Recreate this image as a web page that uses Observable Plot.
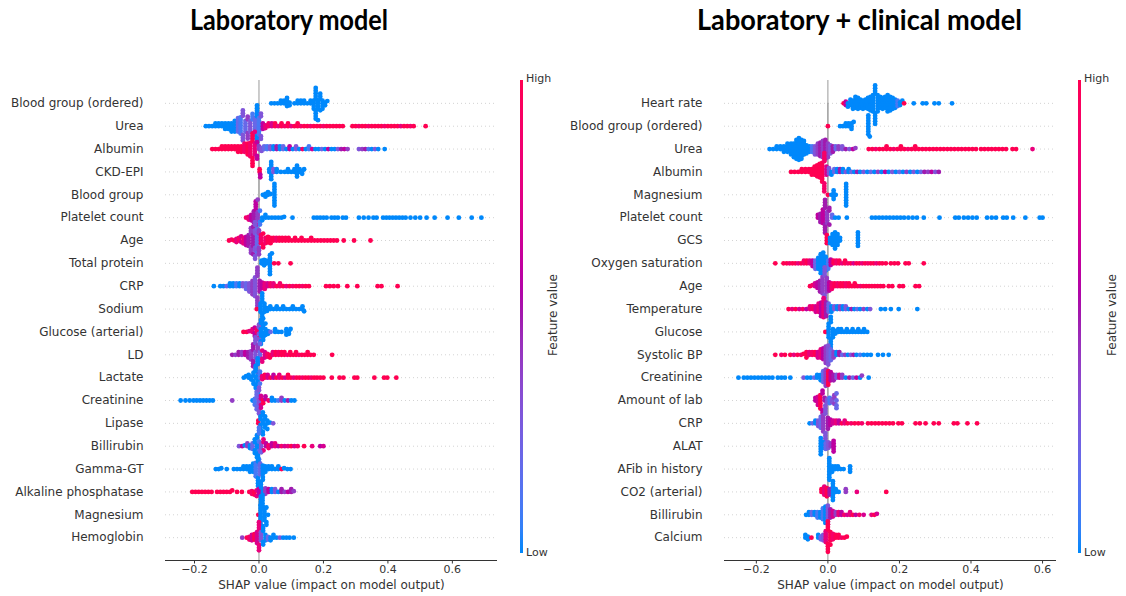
<!DOCTYPE html>
<html><head><meta charset="utf-8">
<script src="https://cdn.jsdelivr.net/npm/d3@7"></script>
<script src="https://cdn.jsdelivr.net/npm/@observablehq/plot@0.6"></script>
<style>
html,body{margin:0;padding:0;background:#fff;}
#root{position:relative;width:1126px;height:596px;overflow:hidden;font-family:"DejaVu Sans",sans-serif;color:#333;}
.title{position:absolute;top:5px;font-family:Lato,"Open Sans",sans-serif;font-weight:700;font-size:28px;line-height:28px;color:#000;white-space:nowrap;transform-origin:0 0;}
.panel{position:absolute;top:0;}
.cbar{position:absolute;width:3px;top:80px;height:473px;}
.cbtext{position:absolute;font-size:11px;line-height:12px;color:#333;}
.fv{position:absolute;width:120px;height:14px;font-size:12px;line-height:14px;text-align:center;transform:rotate(-90deg);color:#333;white-space:nowrap;}
</style></head><body><div id="root"></div><script>
// ---------- text ----------
const titles = ["Laboratory model", "Laboratory + clinical model"];
const xLabel = "SHAP value (impact on model output)";
const xTicks = [-0.2, 0, 0.2, 0.4, 0.6];
const colorbarLabels = ["High", "Low", "Feature value"];

// ---------- left panel: laboratory model ----------
const labFeatures = ["Blood group (ordered)","Urea","Albumin","CKD-EPI","Blood group","Platelet count","Age","Total protein","CRP","Sodium","Glucose (arterial)","LD","Lactate","Creatinine","Lipase","Billirubin","Gamma-GT","Alkaline phosphatase","Magnesium","Hemoglobin"];
// each entry: [SHAP value, feature value (0 low .. 1 high), number of points]
const labBloodGroupOrdered = [[0.038,0,1],[0.048,0,1],[0.058,0,1],[0.068,0,2],[0.078,0,2],[0.087,0,4],[0.095,0,2],[0.11,0,1],[0.12,0,2],[0.13,0,2],[0.14,0,2],[0.15,0,1],[0.16,0,2],[0.17,0,4],[0.176,0,9],[0.183,0,5],[0.19,0,4],[0.197,0,4],[0.205,0,2],[0.212,0,1]];
const labUrea = [[-0.165,0,1],[-0.155,0,1],[-0.145,0,1],[-0.135,0,2],[-0.125,0,2],[-0.115,0,2],[-0.105,0,3],[-0.095,0,3],[-0.085,0,4],[-0.075,0,5],[-0.065,0.2,6],[-0.057,0.1,7],[-0.05,0.3,6],[-0.042,0.2,5],[-0.035,0.4,5],[-0.027,0.3,5],[-0.02,0.1,6],[-0.012,0.2,7],[-0.006,0,9],[0,0.1,7],[0.006,0.3,4],[0.012,0.6,3],[0.02,0.8,2],[0.03,0.9,2],[0.04,0.7,2],[0.05,1,2],[0.06,0.8,1],[0.07,1,2],[0.08,0.9,1],[0.09,1,2],[0.1,0.8,1],[0.11,1,1],[0.12,1,2],[0.13,0.9,1],[0.14,1,1],[0.15,1,1],[0.16,0.9,1],[0.17,1,1],[0.18,1,1],[0.19,1,1],[0.2,0.9,1],[0.21,1,1],[0.22,1,1],[0.23,1,1],[0.24,1,1],[0.25,1,1],[0.26,1,1],[0.29,1,1],[0.3,1,1],[0.31,0.9,1],[0.32,1,1],[0.33,1,1],[0.34,0.9,1],[0.35,1,1],[0.36,1,1],[0.37,1,1],[0.38,1,1],[0.39,0.9,1],[0.4,1,1],[0.41,1,1],[0.42,1,1],[0.43,1,1],[0.44,0.8,1],[0.45,1,1],[0.46,1,1],[0.47,0.9,1],[0.48,1,1],[0.517,1,1]];
const labAlbumin = [[-0.145,1,1],[-0.135,1,1],[-0.125,1,1],[-0.115,1,2],[-0.105,1,2],[-0.095,1,2],[-0.085,1,2],[-0.075,1,2],[-0.065,1,3],[-0.055,1,3],[-0.045,0.9,4],[-0.035,1,5],[-0.027,0.9,6],[-0.02,1,8],[-0.013,0.8,6],[-0.006,0.6,3],[0,0.4,2],[0.008,0.3,2],[0.016,0.2,2],[0.025,0.1,2],[0.035,0.3,2],[0.045,0,2],[0.055,0.5,2],[0.065,0,2],[0.075,0.2,2],[0.085,0,1],[0.095,0.6,2],[0.105,0,1],[0.115,0.3,2],[0.125,0,1],[0.135,0.9,1],[0.145,0,1],[0.155,0.1,2],[0.165,0.7,1],[0.175,0,1],[0.185,0,1],[0.195,0.2,1],[0.205,0,1],[0.215,0.6,1],[0.225,0,1],[0.235,0,1],[0.245,0.3,1],[0.255,0.5,1],[0.265,0.6,1],[0.275,0.4,1],[0.31,0.3,1],[0.32,0.4,1],[0.33,0.5,1],[0.34,0.1,1],[0.35,0,1],[0.36,0.3,1],[0.37,0,1],[0.39,0,1]];
const labCkdEpi = [[0.002,1,2],[0.004,0.6,2],[0.032,0,2],[0.038,0,6],[0.045,0.3,2],[0.055,0,2],[0.068,0,1],[0.08,0,1],[0.09,0,2],[0.1,0,1],[0.11,0,2],[0.118,0,5],[0.126,0,2],[0.134,0,2],[0.14,0,1]];
const labBloodGroup = [[0.012,0,1],[0.02,0,2],[0.028,0,2],[0.036,0,1],[0.048,0,9]];
const labPlateletCount = [[-0.04,0.9,1],[-0.032,0.8,2],[-0.024,0.6,3],[-0.016,0.5,5],[-0.01,0.6,8],[-0.004,0.4,6],[0.003,0.1,3],[0.01,0,2],[0.02,0,2],[0.03,0,1],[0.04,0,1],[0.05,0,1],[0.06,0,1],[0.07,0,1],[0.078,0,1],[0.104,0,1],[0.17,0,1],[0.18,0,1],[0.19,0,1],[0.2,0,1],[0.21,0,1],[0.225,0,1],[0.235,0,1],[0.245,0,1],[0.26,0,1],[0.27,0,1],[0.31,0,1],[0.325,0,1],[0.34,0,1],[0.355,0,1],[0.365,0,1],[0.385,0,1],[0.395,0,1],[0.405,0,1],[0.415,0,1],[0.425,0,1],[0.435,0,1],[0.445,0,1],[0.455,0,1],[0.47,0,1],[0.485,0,1],[0.5,0,1],[0.52,0,1],[0.545,0,1],[0.585,0,1],[0.62,0,1],[0.66,0,1],[0.69,0,1]];
const labAge = [[-0.093,1,1],[-0.085,0.9,1],[-0.077,1,1],[-0.07,0.8,2],[-0.062,0.9,2],[-0.055,0.7,2],[-0.048,0.8,3],[-0.04,0.6,4],[-0.032,0.5,5],[-0.025,0.4,6],[-0.018,0.5,7],[-0.012,0.3,8],[-0.006,0.2,7],[0,0.4,5],[0.006,0.9,4],[0.013,1,3],[0.02,0.9,3],[0.028,1,3],[0.036,1,3],[0.045,1,2],[0.054,0.9,2],[0.063,1,2],[0.072,1,2],[0.082,1,2],[0.092,1,2],[0.102,1,1],[0.112,1,2],[0.122,1,1],[0.132,1,2],[0.142,1,1],[0.152,1,1],[0.162,1,2],[0.172,1,1],[0.182,1,1],[0.192,1,1],[0.202,1,1],[0.212,1,1],[0.222,1,1],[0.232,1,1],[0.242,1,1],[0.263,1,1],[0.295,1,1],[0.346,1,1]];
const labTotalProtein = [[0.008,0,2],[0.016,0,3],[0.024,0,2],[0.034,0,8],[0.04,0,1],[0.047,1,1],[0.06,1,1],[0.098,1,1]];
const labCrp = [[-0.14,0,1],[-0.12,0,1],[-0.11,0,1],[-0.1,0.2,1],[-0.09,0,2],[-0.08,0,2],[-0.07,0.1,2],[-0.06,0,2],[-0.05,0.3,2],[-0.04,0.2,3],[-0.03,0.3,4],[-0.02,0.4,6],[-0.012,0.3,8],[-0.005,0.4,8],[0.002,0.5,5],[0.01,0.6,3],[0.018,0.8,3],[0.027,0.7,2],[0.036,0.9,2],[0.045,0.8,2],[0.055,1,1],[0.065,0.9,2],[0.075,1,1],[0.085,0.8,1],[0.095,1,1],[0.105,0.9,1],[0.115,1,1],[0.125,1,1],[0.135,0.9,1],[0.145,1,1],[0.155,1,1],[0.208,1,1],[0.22,1,1],[0.232,1,1],[0.245,1,1],[0.274,1,1],[0.305,1,1],[0.368,1,1],[0.38,1,1],[0.43,1,1]];
const labSodium = [[-0.007,1,1],[0.005,0,4],[0.01,0,9],[0.017,0,4],[0.025,0,2],[0.035,0,2],[0.045,0,1],[0.055,0,2],[0.065,0,1],[0.075,0,2],[0.085,0,1],[0.095,0,1],[0.105,0,2],[0.115,0,1],[0.125,0,1],[0.135,0,2],[0.14,0,1]];
const labGlucoseArterial = [[-0.048,1,1],[-0.038,1,1],[-0.03,0.8,1],[-0.02,0.8,2],[-0.013,0.6,3],[-0.006,0.9,3],[0,0.3,4],[0.006,0,7],[0.013,0,6],[0.02,0,4],[0.028,0,2],[0.036,0.2,1],[0.05,0,2],[0.06,0,1],[0.07,0,1],[0.085,0,3],[0.093,0,2],[0.098,0,1]];
const labLd = [[-0.083,0.5,1],[-0.073,0.4,1],[-0.063,0.5,2],[-0.053,0.4,2],[-0.043,0.6,2],[-0.033,0.5,3],[-0.025,0.4,4],[-0.018,0.5,6],[-0.011,0.3,8],[-0.004,0.4,7],[0.003,0.2,4],[0.01,0.8,3],[0.018,0.7,3],[0.026,0.9,2],[0.034,1,2],[0.043,0.8,2],[0.052,1,2],[0.061,0.9,2],[0.07,1,2],[0.079,1,2],[0.088,0.9,1],[0.097,1,2],[0.106,1,1],[0.115,1,2],[0.124,0.9,1],[0.133,1,1],[0.142,1,1],[0.151,1,2],[0.16,1,1],[0.17,1,1],[0.227,1,1]];
const labLactate = [[-0.047,0,1],[-0.04,0,1],[-0.032,0,2],[-0.024,0,2],[-0.017,0,4],[-0.01,0,6],[-0.004,0,9],[0.003,0.1,4],[0.01,0.8,2],[0.018,1,2],[0.027,0.7,2],[0.036,1,1],[0.045,0.6,2],[0.054,1,1],[0.063,0.8,2],[0.072,1,1],[0.081,0.7,1],[0.09,1,2],[0.099,1,1],[0.108,0.8,1],[0.117,1,1],[0.126,1,1],[0.135,0.9,1],[0.144,1,1],[0.153,1,1],[0.162,0.9,1],[0.171,1,1],[0.18,1,1],[0.19,1,1],[0.2,1,1],[0.226,1,1],[0.25,1,1],[0.262,1,1],[0.296,1,1],[0.305,1,1],[0.358,1,1],[0.388,1,1],[0.398,1,1],[0.426,1,1]];
const labCreatinine = [[-0.243,0,1],[-0.228,0,1],[-0.215,0,1],[-0.203,0,1],[-0.193,0,1],[-0.183,0,1],[-0.173,0,1],[-0.163,0,1],[-0.153,0,1],[-0.143,0,1],[-0.083,0.4,1],[-0.02,0,1],[-0.013,0.1,3],[-0.007,0.2,5],[0,0.3,6],[0.006,0.7,4],[0.013,1,2],[0.02,0.6,2],[0.03,0.9,1],[0.04,0,2],[0.05,0,1],[0.06,0.1,1],[0.07,0.4,2],[0.08,0,1],[0.09,0.5,1],[0.1,0,1],[0.11,0,1]];
const labLipase = [[-0.002,1,2],[0.005,0,5],[0.012,0,6],[0.019,0,4],[0.026,0,3],[0.034,0,1],[0.044,0.3,1]];
const labBillirubin = [[-0.062,0.3,1],[-0.052,0.6,1],[-0.044,0,1],[-0.036,0.4,2],[-0.028,0,2],[-0.02,0.2,3],[-0.013,0,4],[-0.006,0,7],[0,0.1,8],[0.007,0.3,4],[0.014,0.8,3],[0.022,0.6,2],[0.03,0.9,2],[0.04,0.6,2],[0.05,0.8,2],[0.06,0.6,1],[0.07,0.9,1],[0.08,0.7,1],[0.09,0.8,1],[0.1,1,1],[0.11,0.7,1],[0.12,0.9,1],[0.14,1,1],[0.165,0.8,1],[0.19,0.6,1],[0.2,0.7,1]];
const labGammaGt = [[-0.134,0,1],[-0.125,0,1],[-0.117,0,1],[-0.1,0,1],[-0.078,0,1],[-0.068,0,1],[-0.058,0,1],[-0.048,0,2],[-0.038,0,2],[-0.028,0,3],[-0.018,0,4],[-0.01,0.1,6],[-0.003,0,8],[0.004,0.2,6],[0.012,0,4],[0.02,0,3],[0.03,0,2],[0.04,0,2],[0.05,0,1],[0.06,0,2],[0.07,1,1],[0.078,0,1],[0.088,0,1],[0.098,0,1]];
const labAlkalinePhosphatase = [[-0.207,1,1],[-0.197,1,1],[-0.187,1,1],[-0.177,1,1],[-0.167,1,1],[-0.157,1,1],[-0.147,1,1],[-0.13,1,1],[-0.12,1,1],[-0.11,1,1],[-0.1,1,1],[-0.09,1,1],[-0.083,1,1],[-0.068,1,1],[-0.053,1,1],[-0.03,1,1],[-0.022,0.9,2],[-0.014,1,2],[-0.007,0.8,2],[0,0.6,3],[0.006,0,7],[0.012,0,6],[0.02,0.4,3],[0.03,0.6,2],[0.04,0,2],[0.05,0.3,2],[0.06,0,1],[0.07,0.5,2],[0.08,0.4,1],[0.09,0.6,1],[0.1,0.5,2],[0.108,0.4,1]];
const labMagnesium = [[-0.002,1,1],[0.005,0,8],[0.011,0,7],[0.017,0,5],[0.023,0,3],[0.028,0,1]];
const labHemoglobin = [[-0.052,0.4,1],[-0.038,1,1],[-0.03,0.9,2],[-0.022,0.7,3],[-0.014,1,3],[-0.006,0.7,5],[0,0.8,7],[0.006,0.3,4],[0.013,0,4],[0.02,0,3],[0.028,0.2,2],[0.036,0,2],[0.045,0,2],[0.055,0,1],[0.065,0.3,1],[0.075,0,1],[0.085,0,1],[0.095,0,1],[0.108,0,1]];
const labSeries = [labBloodGroupOrdered,labUrea,labAlbumin,labCkdEpi,labBloodGroup,labPlateletCount,labAge,labTotalProtein,labCrp,labSodium,labGlucoseArterial,labLd,labLactate,labCreatinine,labLipase,labBillirubin,labGammaGt,labAlkalinePhosphatase,labMagnesium,labHemoglobin];

// ---------- right panel: laboratory + clinical model ----------
const clinFeatures = ["Heart rate","Blood group (ordered)","Urea","Albumin","Magnesium","Platelet count","GCS","Oxygen saturation","Age","Temperature","Glucose","Systolic BP","Creatinine","Amount of lab","CRP","ALAT","AFib in history","CO2 (arterial)","Billirubin","Calcium"];
const clinHeartRate = [[0.044,1,1],[0.05,0.6,2],[0.056,0,2],[0.063,0,3],[0.07,0,4],[0.077,0,5],[0.084,0,5],[0.091,0,4],[0.098,0,4],[0.105,0,4],[0.112,0,5],[0.119,0,6],[0.126,0,7],[0.132,0,9],[0.139,0,7],[0.146,0,5],[0.153,0,5],[0.16,0,5],[0.167,0,7],[0.174,0,6],[0.181,0,5],[0.188,0,4],[0.195,0.1,3],[0.202,0,2],[0.208,0,1],[0.213,1,1],[0.24,0,1],[0.265,0,1],[0.275,0,1],[0.298,0,1],[0.31,0,1],[0.347,0,1]];
const clinBloodGroupOrdered = [[0,1,1],[0.034,0,1],[0.042,0,1],[0.05,0,2],[0.058,0,2],[0.066,0,3],[0.072,0,1],[0.113,0,8],[0.117,0,1]];
const clinUrea = [[-0.163,0,1],[-0.153,0,1],[-0.143,0,2],[-0.133,0,2],[-0.123,0,3],[-0.113,0,4],[-0.103,0,5],[-0.095,0,6],[-0.088,0,8],[-0.081,0,9],[-0.074,0,8],[-0.067,0,6],[-0.06,0,4],[-0.052,0,3],[-0.044,0.1,3],[-0.036,0.3,4],[-0.028,0.4,5],[-0.021,0.5,6],[-0.014,0.4,7],[-0.007,0.5,8],[0,0.4,6],[0.007,0.3,4],[0.014,0.5,3],[0.022,0.2,2],[0.03,0.4,2],[0.04,0.3,2],[0.05,0.5,1],[0.06,0.3,1],[0.07,0.6,1],[0.077,0.4,1],[0.114,1,1],[0.124,1,1],[0.134,0.9,1],[0.144,1,1],[0.154,1,1],[0.164,1,2],[0.174,1,1],[0.184,0.9,1],[0.194,1,1],[0.204,1,2],[0.214,1,1],[0.224,0.9,1],[0.234,1,1],[0.244,1,2],[0.254,1,1],[0.264,1,1],[0.274,1,1],[0.284,1,1],[0.294,1,1],[0.304,1,1],[0.314,1,1],[0.324,1,1],[0.334,1,1],[0.344,1,1],[0.354,1,1],[0.364,1,1],[0.374,1,1],[0.384,1,1],[0.394,1,1],[0.404,1,1],[0.414,1,1],[0.428,1,1],[0.438,1,1],[0.448,1,1],[0.458,1,1],[0.468,1,1],[0.478,1,1],[0.488,1,1],[0.498,1,1],[0.516,1,1],[0.526,1,1],[0.572,0.8,1]];
const clinAlbumin = [[-0.103,1,1],[-0.093,1,1],[-0.083,1,1],[-0.073,1,2],[-0.063,1,2],[-0.053,1,2],[-0.045,1,3],[-0.037,1,4],[-0.03,1,5],[-0.023,1,6],[-0.016,1,8],[-0.01,0.9,8],[-0.004,0.7,4],[0.003,0.3,3],[0.01,0,2],[0.018,0.2,2],[0.026,0,2],[0.034,0.5,2],[0.042,0,2],[0.05,0.3,1],[0.058,0,2],[0.066,0.2,1],[0.074,0,1],[0.082,0.5,1],[0.09,0,1],[0.1,0.3,1],[0.11,0,1],[0.12,0.2,1],[0.13,0,1],[0.14,0.4,1],[0.15,0,1],[0.16,0.6,1],[0.17,0,1],[0.18,0.3,1],[0.19,0,1],[0.2,0.2,1],[0.21,0,1],[0.22,0.4,1],[0.23,0,1],[0.24,0.3,1],[0.25,0,1],[0.26,0.2,1],[0.27,0.5,1],[0.28,0.4,1],[0.29,0.6,1],[0.3,0.3,1],[0.31,0.5,1]];
const clinMagnesium = [[0,1,1],[0.01,0,1],[0.016,0,4],[0.022,0,1],[0.051,0,9]];
const clinPlateletCount = [[-0.028,0.6,2],[-0.021,0.5,4],[-0.014,0.6,6],[-0.008,0.5,8],[-0.002,0.4,5],[0.004,0.5,3],[0.012,0.2,2],[0.02,0,1],[0.03,0,1],[0.053,0,1],[0.123,0,1],[0.133,0,1],[0.143,0,1],[0.153,0,1],[0.163,0,1],[0.173,0,1],[0.183,0,1],[0.193,0,1],[0.203,0,1],[0.213,0,1],[0.225,0,1],[0.237,0,1],[0.249,0,1],[0.268,0,1],[0.312,0,1],[0.356,0,1],[0.366,0,1],[0.38,0,1],[0.392,0,1],[0.404,0,1],[0.416,0,1],[0.445,0,1],[0.458,0,1],[0.47,0,1],[0.49,0,1],[0.5,0,1],[0.518,0,1],[0.552,0,1],[0.592,0,1],[0.6,0,1]];
const clinGcs = [[-0.003,1,4],[0.006,0,3],[0.013,0,5],[0.02,0,7],[0.027,0,5],[0.034,0,2],[0.084,0,6]];
const clinOxygenSaturation = [[-0.147,1,1],[-0.124,1,1],[-0.115,1,1],[-0.107,0.9,1],[-0.099,1,1],[-0.091,1,1],[-0.083,0.8,1],[-0.075,1,1],[-0.067,0.9,2],[-0.059,1,2],[-0.051,0.8,2],[-0.043,0.6,3],[-0.035,0.2,4],[-0.027,0,5],[-0.02,0,8],[-0.013,0,9],[-0.006,0,6],[0.001,0.1,4],[0.008,0.6,3],[0.016,1,2],[0.024,0.9,2],[0.032,1,2],[0.04,0.8,1],[0.048,1,2],[0.056,0.9,1],[0.064,1,1],[0.072,0.7,1],[0.08,1,1],[0.088,1,1],[0.096,0.8,1],[0.104,1,1],[0.112,0.9,1],[0.12,1,1],[0.128,1,1],[0.136,0.8,1],[0.144,1,1],[0.152,1,1],[0.162,1,1],[0.176,1,1],[0.186,1,1],[0.196,1,1],[0.217,1,1],[0.226,1,1],[0.268,1,1]];
const clinAge = [[-0.05,1,1],[-0.043,0.9,1],[-0.036,0.7,2],[-0.029,0.6,3],[-0.022,0.5,5],[-0.015,0.4,7],[-0.009,0.3,8],[-0.003,0.4,7],[0.004,0.6,4],[0.011,0.9,3],[0.019,1,2],[0.027,0.9,2],[0.035,1,2],[0.043,1,2],[0.051,0.9,2],[0.059,1,2],[0.067,1,1],[0.075,1,2],[0.083,1,1],[0.091,0.9,1],[0.099,1,1],[0.107,1,1],[0.115,1,1],[0.123,1,1],[0.131,1,1],[0.139,1,1],[0.147,1,1],[0.155,1,1],[0.17,1,1],[0.18,1,1],[0.2,1,1],[0.21,1,1],[0.245,1,1],[0.255,1,1]];
const clinTemperature = [[-0.11,1,1],[-0.1,0.8,1],[-0.09,1,1],[-0.08,0.7,1],[-0.07,0.9,1],[-0.06,0.6,1],[-0.05,0.8,2],[-0.042,0.9,2],[-0.034,0.7,3],[-0.026,0.8,4],[-0.019,0.6,6],[-0.012,0.8,8],[-0.005,0.5,6],[0.002,0.2,4],[0.01,0,3],[0.018,0.3,2],[0.026,0,2],[0.034,0.4,2],[0.042,0,2],[0.05,0.3,2],[0.058,0,1],[0.066,0.5,1],[0.074,0,1],[0.082,0.2,1],[0.09,0,1],[0.1,0.4,1],[0.11,0,1],[0.118,0.3,1],[0.148,0,1],[0.16,0,1],[0.176,0,1],[0.198,0,1],[0.25,0,1]];
const clinGlucose = [[-0.007,1,1],[0.002,0,6],[0.008,0,8],[0.014,0,4],[0.021,0,2],[0.029,0,2],[0.037,0,2],[0.045,0,1],[0.053,0,2],[0.061,0,1],[0.069,0,2],[0.077,0,1],[0.085,0,2],[0.093,0,1],[0.101,0,2],[0.11,0,1]];
const clinSystolicBp = [[-0.147,1,1],[-0.13,0.9,1],[-0.12,1,1],[-0.105,1,1],[-0.095,0.8,1],[-0.085,1,1],[-0.075,0.9,1],[-0.068,1,1],[-0.06,1,3],[-0.052,0.8,2],[-0.044,0.9,2],[-0.036,1,2],[-0.028,0.7,3],[-0.02,0.8,4],[-0.013,0.6,5],[-0.006,0.4,7],[0.001,0.3,8],[0.008,0.2,5],[0.016,0.4,3],[0.024,0,2],[0.032,0.5,2],[0.04,0.2,1],[0.048,0.4,1],[0.056,0,1],[0.064,0.3,1],[0.072,0.5,1],[0.08,0,1],[0.09,0.1,1],[0.1,0,1],[0.11,0,1],[0.12,0,1],[0.14,0,1],[0.154,0,1],[0.17,0,1]];
const clinCreatinine = [[-0.25,0,1],[-0.235,0,1],[-0.225,0,1],[-0.215,0,1],[-0.205,0,1],[-0.195,0,1],[-0.185,0,1],[-0.175,0,1],[-0.165,0,1],[-0.155,0,1],[-0.14,0,1],[-0.13,0,1],[-0.12,0,1],[-0.105,0,1],[-0.068,0.3,1],[-0.058,0,1],[-0.048,0,1],[-0.038,0.2,1],[-0.03,0,2],[-0.02,0,3],[-0.013,0.2,5],[-0.006,0.4,7],[0.001,1,6],[0.008,0.6,4],[0.016,0.5,3],[0.024,0.3,2],[0.032,0.7,2],[0.04,0.4,2],[0.05,0,1],[0.06,0.5,1],[0.07,0.2,1],[0.08,0.6,1],[0.09,0,1],[0.095,0.4,1],[0.114,0,1]];
const clinAmountOfLab = [[-0.035,0.6,2],[-0.028,0.7,4],[-0.021,1,6],[-0.015,0.6,4],[-0.009,0.5,2],[-0.002,0.3,2],[0.005,0.1,3],[0.012,0.3,2],[0.018,0.4,3],[0.024,0.2,4]];
const clinCrp = [[-0.051,0,1],[-0.043,0.2,1],[-0.035,0,2],[-0.027,0.3,3],[-0.02,0.2,5],[-0.013,0.4,7],[-0.007,0.3,8],[0,0.5,5],[0.007,0.6,3],[0.015,0.7,2],[0.023,0.8,2],[0.031,0.6,2],[0.039,1,1],[0.047,0.8,2],[0.055,1,1],[0.065,0.9,1],[0.075,1,1],[0.085,1,1],[0.095,0.9,1],[0.112,1,1],[0.122,1,1],[0.132,1,1],[0.142,1,1],[0.152,1,1],[0.162,1,1],[0.172,1,1],[0.182,1,1],[0.197,1,1],[0.207,1,1],[0.245,1,1],[0.257,1,1],[0.273,1,1],[0.296,1,1],[0.31,1,1],[0.352,1,1],[0.362,1,1],[0.39,1,1],[0.417,1,1]];
const clinAlat = [[-0.02,0,7],[-0.013,0,3],[-0.006,0.2,3],[0.001,0.3,3],[0.008,0.4,2],[0.016,0.6,5]];
const clinAfibInHistory = [[0.004,0,9],[0.012,0,3],[0.02,0,2],[0.028,0,2],[0.036,0,1],[0.044,0,1],[0.062,0,3]];
const clinCo2Arterial = [[-0.018,1,2],[-0.01,0.8,4],[-0.003,1,4],[0.005,0.5,3],[0.014,0,8],[0.022,0,2],[0.03,0,1],[0.05,0.4,2],[0.081,0.8,1],[0.163,1,1]];
const clinBillirubin = [[-0.061,0,1],[-0.053,0,2],[-0.045,0.2,2],[-0.037,0,2],[-0.029,0.1,3],[-0.021,0,3],[-0.014,0.1,5],[-0.007,0,7],[0,0.3,8],[0.007,0.5,4],[0.014,0.7,3],[0.022,0.4,2],[0.03,0.8,2],[0.038,0.6,2],[0.046,0.9,1],[0.054,0.7,1],[0.062,0.8,2],[0.07,1,1],[0.078,0.6,1],[0.088,0.9,1],[0.1,0.7,1],[0.122,0.8,1],[0.13,1,1],[0.137,0.7,1]];
const clinCalcium = [[-0.063,0,2],[-0.056,0,2],[-0.046,1,1],[-0.027,0,2],[-0.02,0.2,2],[-0.013,0.3,3],[-0.006,0.8,5],[0,1,8],[0.007,1,5],[0.014,0.9,3],[0.022,1,2],[0.03,1,2],[0.038,0.9,1],[0.046,1,1],[0.053,1,1]];
const clinSeries = [clinHeartRate,clinBloodGroupOrdered,clinUrea,clinAlbumin,clinMagnesium,clinPlateletCount,clinGcs,clinOxygenSaturation,clinAge,clinTemperature,clinGlucose,clinSystolicBp,clinCreatinine,clinAmountOfLab,clinCrp,clinAlat,clinAfibInHistory,clinCo2Arterial,clinBillirubin,clinCalcium];

// ---------- drawing ----------
const shapColor = {
  type: "linear", domain: [0, 0.5, 1], interpolate: "hcl",
  range: [d3.hcl(266.9, 70, 54).formatHex(), d3.hcl(323.6, 80, 40).formatHex(), d3.hcl(20.3, 90, 54).formatHex()]
};

function expand(features, series) {
  const out = [];
  features.forEach((f, i) => {
    for (const [v, c, n] of series[i]) for (let k = 0; k < n; k++) out.push({feature: f, shap: v, value: c});
  });
  return out;
}

function panel(features, series, domain, marginLeft, marginRight) {
  const data = expand(features, series);
  const top = 80, bottom = 560, step = (bottom - top) / (features.length + 1);
  const last = [features[features.length - 1]];
  return Plot.plot({
    width: 563, height: 596,
    marginTop: top, marginBottom: 596 - bottom, marginLeft, marginRight,
    style: {fontFamily: "DejaVu Sans", fontSize: "12px", color: "#333", background: "transparent", overflow: "visible"},
    x: {domain},
    fy: {domain: features, range: [top + step / 2, bottom - step / 2], padding: 0, round: false},
    color: shapColor,
    marks: [
      Plot.ruleY(features, {fy: (d) => d, y: null, stroke: "#c8c8c8", strokeWidth: 0.8, strokeDasharray: "1,3"}),
      Plot.ruleX([0], {stroke: "#999", insetTop: -step / 2, insetBottom: -step / 2}),
      Plot.ruleY(last, {fy: (d) => d, y: null, dy: step, stroke: "#333"}),
      Plot.axisFy({anchor: "left", tickSize: 0, tickPadding: 22, label: null, fontSize: 12, fill: "#333"}),
      Plot.axisX({anchor: "bottom", dy: step / 2, ticks: xTicks, tickFormat: d3.format(".1f"), tickSize: 3.5, tickPadding: 1, fontSize: 11, label: null, stroke: "#333", fill: "#333"}),
      Plot.text(last, {fy: (d) => d, text: () => xLabel, frameAnchor: "bottom", dy: step / 2 + 28, fontSize: 12, fill: "#333"}),
      Plot.dot(data, Plot.dodgeY({anchor: "middle", padding: -2.1}, {x: "shap", fy: "feature", fill: "value", r: 2.4}))
    ]
  });
}

const root = document.getElementById("root");
const left = panel(labFeatures, labSeries, [-0.29, 0.74], 165, 66);
left.classList.add("panel"); left.style.left = "0px";
root.appendChild(left);
const right = panel(clinFeatures, clinSeries, [-0.289, 0.639], 161, 70);
right.classList.add("panel"); right.style.left = "563px";
root.appendChild(right);

// colour bars (gradient sampled from the same colour scale)
const cs = Plot.scale({color: shapColor});
const stops = d3.range(0, 1.0001, 0.05).map((t) => `${cs.apply(t)} ${(t * 100).toFixed(0)}%`).join(",");
function colorbar(x, fvX) {
  const bar = document.createElement("div");
  bar.className = "cbar"; bar.style.left = x + "px";
  bar.style.background = `linear-gradient(to top, ${stops})`;
  root.appendChild(bar);
  const hi = document.createElement("div"); hi.className = "cbtext"; hi.textContent = colorbarLabels[0];
  hi.style.left = (x + 6) + "px"; hi.style.top = "73px"; root.appendChild(hi);
  const lo = document.createElement("div"); lo.className = "cbtext"; lo.textContent = colorbarLabels[1];
  lo.style.left = (x + 6) + "px"; lo.style.top = "547px"; root.appendChild(lo);
  const fv = document.createElement("div"); fv.className = "fv"; fv.textContent = colorbarLabels[2];
  fv.style.left = (fvX - 60) + "px"; fv.style.top = (315 - 7) + "px"; root.appendChild(fv);
}
colorbar(520, 553);
colorbar(1078, 1112);

// titles
const titleBoxes = [[190, 198], [697, 325]];
titles.forEach((t, i) => {
  const d = document.createElement("div");
  d.className = "title"; d.textContent = t;
  d.style.left = titleBoxes[i][0] + "px";
  root.appendChild(d);
  const w = d.getBoundingClientRect().width;
  d.style.transform = `scaleX(${titleBoxes[i][1] / w})`;
});
</script></body></html>
